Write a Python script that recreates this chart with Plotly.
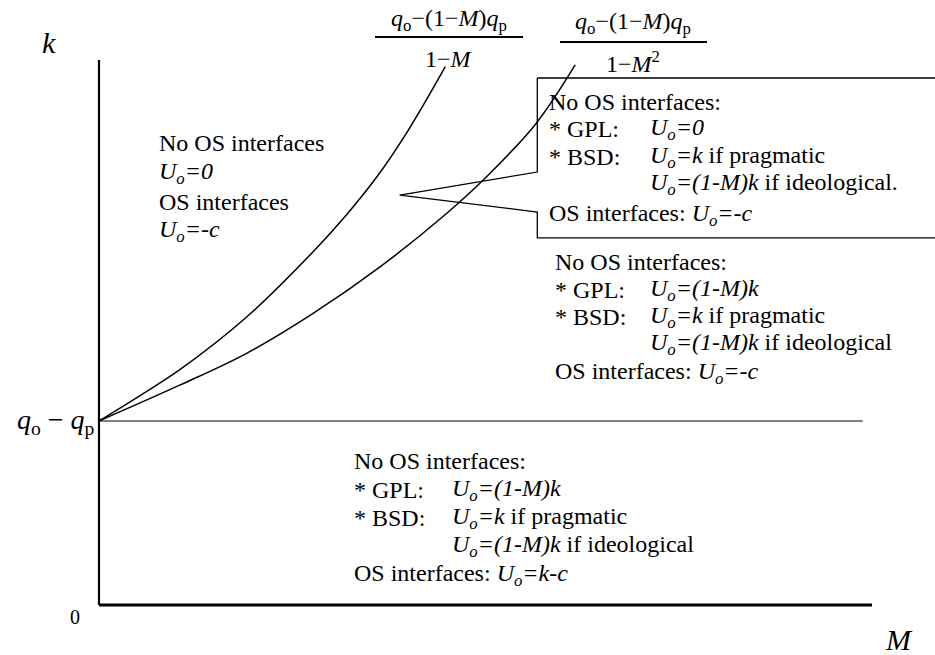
import plotly.graph_objs as go

W, H = 935, 655
font_name = "Liberation Serif, Times New Roman, serif"

# curves (M on the x axis, k on the y axis, q_o - q_p = 1)
m_curve_1m = [0.0, 0.05, 0.105, 0.191, 0.277, 0.320, 0.360, 0.400, 0.448]
k_curve_1m = [1.0, 1.13, 1.28, 1.565, 1.92, 2.12, 2.33, 2.58, 2.926]

m_curve_1m2 = [0.0, 0.105, 0.191, 0.277, 0.364, 0.450, 0.502, 0.566, 0.616]
k_curve_1m2 = [1.0, 1.196, 1.368, 1.585, 1.839, 2.129, 2.330, 2.620, 2.935]

# horizontal level q_o - q_p
m_level = [0.0, 0.988]
k_level = [1.0, 1.0]

# axes
m_vaxis = [0.0, 0.0]
k_vaxis = [0.0, 2.962]
m_haxis = [0.0, 1.0]
k_haxis = [0.0, 0.0]

# callout box with its pointer
m_callout = [0.567, 1.088, 1.088, 0.567, 0.567, 0.389, 0.567, 0.567]
k_callout = [2.864, 2.864, 1.995, 1.995, 2.136, 2.228, 2.353, 2.864]

U = "<i>U<sub>o</sub>"
left_lines = ["No OS interfaces", U + "=0</i>", "OS interfaces", U + "=-c</i>"]

box_col1 = ["No OS interfaces:", "* GPL:", "* BSD:", "", "OS interfaces: " + U + "=-c</i>"]
box_col2 = ["", U + "=0</i>", U + "=k</i> if pragmatic",
            U + "=(1-M)k</i> if ideological.", ""]

mid_col1 = ["No OS interfaces:", "* GPL:", "* BSD:", "", "OS interfaces: " + U + "=-c</i>"]
mid_col2 = ["", U + "=(1-M)k</i>", U + "=k</i> if pragmatic",
            U + "=(1-M)k</i> if ideological", ""]

low_col1 = ["No OS interfaces:", "* GPL:", "* BSD:", "", "OS interfaces: " + U + "=k-c</i>"]
low_col2 = ["", U + "=(1-M)k</i>", U + "=k</i> if pragmatic",
            U + "=(1-M)k</i> if ideological", ""]

numerator = "<i>q</i><sub>o</sub>\u2212(1\u2212<i>M</i>)<i>q</i><sub>p</sub>"
denom_1 = "1\u2212<i>M</i>"
denom_2 = "1\u2212<i>M</i><sup>2</sup>"

# pixel <-> data mapping of the drawing (origin of the axes at pixel 99, 605)
x0_px, y0_px, px_per_m, px_per_k = 99, 605, 773, 184


def ann(px, py, text, size=24, anchor="left"):
    return dict(
        x=px / W, y=1 - py / H, xref="paper", yref="paper",
        text=text, showarrow=False, xanchor=anchor, yanchor="middle",
        font=dict(family=font_name, size=size, color="black"),
    )


def line(x, y, color="black", width=1.5, shape="linear"):
    return go.Scatter(
        x=x, y=y, mode="lines", hoverinfo="skip", showlegend=False,
        line=dict(color=color, width=width, shape=shape, smoothing=1.0),
    )


fig = go.Figure()
fig.add_trace(line(m_vaxis, k_vaxis, width=2.2))
fig.add_trace(line(m_haxis, k_haxis, width=3))
fig.add_trace(line(m_level, k_level, color="#808080", width=2))
fig.add_trace(line(m_curve_1m, k_curve_1m, shape="spline"))
fig.add_trace(line(m_curve_1m2, k_curve_1m2, shape="spline"))
fig.add_trace(line(m_callout, k_callout, width=1.3))

annotations = []
# axis labels
annotations.append(ann(49, 43, "<i>k</i>", size=30, anchor="center"))
annotations.append(ann(899, 639, "<i>M</i>", size=30, anchor="center"))
annotations.append(ann(75, 617, "0", size=20, anchor="center"))
annotations.append(ann(97, 421, "<i>q</i><sub>o</sub> \u2212 <i>q</i><sub>p</sub>", size=28, anchor="right"))

# fractions above the curves
annotations.append(ann(449, 20, numerator, size=24, anchor="center"))
annotations.append(ann(449, 59, denom_1, size=24, anchor="center"))
annotations.append(ann(633, 23, numerator, size=24, anchor="center"))
annotations.append(ann(633, 62, denom_2, size=24, anchor="center"))

# text blocks
for txt, yy in zip(left_lines, [143, 173, 202, 231]):
    annotations.append(ann(157, yy, txt))

for c1, c2, yy in zip(box_col1, box_col2, [102, 129, 157, 184, 215]):
    if c1:
        annotations.append(ann(547, yy, c1))
    if c2:
        annotations.append(ann(648, yy, c2))

for c1, c2, yy in zip(mid_col1, mid_col2, [262, 290, 317, 344, 373]):
    if c1:
        annotations.append(ann(553, yy, c1))
    if c2:
        annotations.append(ann(648, yy, c2))

for c1, c2, yy in zip(low_col1, low_col2, [461, 490, 518, 546, 575]):
    if c1:
        annotations.append(ann(352, yy, c1))
    if c2:
        annotations.append(ann(450, yy, c2))

shapes = [
    dict(type="line", xref="paper", yref="paper", x0=375 / W, x1=523 / W,
         y0=1 - 37 / H, y1=1 - 37 / H, line=dict(color="black", width=1.8)),
    dict(type="line", xref="paper", yref="paper", x0=560 / W, x1=707 / W,
         y0=1 - 42 / H, y1=1 - 42 / H, line=dict(color="black", width=1.8)),
]

fig.update_layout(
    width=W,
    height=H,
    margin=dict(l=0, r=0, t=0, b=0),
    paper_bgcolor="white",
    plot_bgcolor="white",
    showlegend=False,
    xaxis=dict(
        range=[-x0_px / px_per_m, (W - x0_px) / px_per_m],
        visible=False, fixedrange=True,
    ),
    yaxis=dict(
        range=[(y0_px - H) / px_per_k, y0_px / px_per_k],
        visible=False, fixedrange=True,
    ),
    annotations=annotations,
    shapes=shapes,
)

# the page body has a default margin; drop it so the figure sits at the corner
fig.write_html(
    "out.html",
    config={"displayModeBar": False},
    post_script="document.body.style.margin='0';",
)
